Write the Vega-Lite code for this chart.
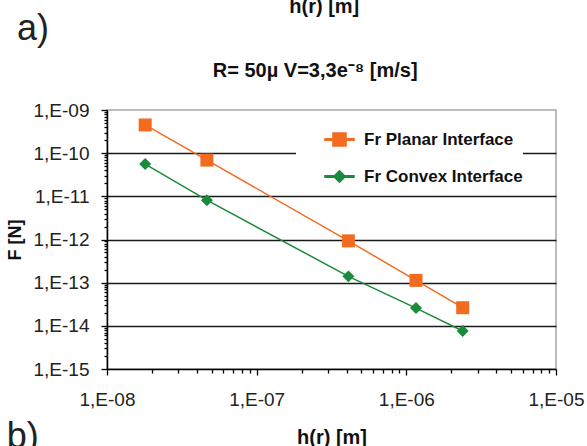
{
  "$schema": "https://vega.github.io/schema/vega-lite/v6.json",
  "width": 449,
  "height": 259,
  "autosize": {"type": "none"},
  "padding": {"left": 107, "top": 110, "right": 31, "bottom": 77},
  "background": "white",
  "config": {
    "font": "Liberation Sans",
    "view": {"stroke": "#a6a6a6", "strokeWidth": 1.5}
  },
  "data": {
    "values": [
      {"series": "Fr Planar Interface", "h": 1.8e-8, "F": 4.5e-10},
      {"series": "Fr Planar Interface", "h": 4.65e-8, "F": 6.9e-11},
      {"series": "Fr Planar Interface", "h": 4.1e-7, "F": 9.3e-13},
      {"series": "Fr Planar Interface", "h": 1.16e-6, "F": 1.13e-13},
      {"series": "Fr Planar Interface", "h": 2.38e-6, "F": 2.63e-14},
      {"series": "Fr Convex Interface", "h": 1.8e-8, "F": 5.6e-11},
      {"series": "Fr Convex Interface", "h": 4.65e-8, "F": 8.15e-12},
      {"series": "Fr Convex Interface", "h": 4.1e-7, "F": 1.4e-13},
      {"series": "Fr Convex Interface", "h": 1.16e-6, "F": 2.58e-14},
      {"series": "Fr Convex Interface", "h": 2.38e-6, "F": 7.6e-15}
    ]
  },
  "layer": [
    {
      "mark": {"type": "point", "filled": true, "opacity": 0, "size": 169},
      "encoding": {
        "x": {
          "field": "h",
          "type": "quantitative",
          "scale": {"type": "log", "domain": [1e-8, 1e-5], "nice": false},
          "axis": {
            "title": "h(r) [m]",
            "titleFont": "Liberation Sans",
            "titleFontSize": 20,
            "titleFontWeight": "bold",
            "titleColor": "#111111",
            "titlePadding": 18,
            "values": [1e-8, 2e-8, 3e-8, 4e-8, 5e-8, 6e-8, 7e-8, 8e-8, 9e-8, 1e-7, 2e-7, 3e-7, 4e-7, 5e-7, 6e-7, 7e-7, 8e-7, 9e-7, 1e-6, 2e-6, 3e-6, 4e-6, 5e-6, 6e-6, 7e-6, 8e-6, 9e-6, 1e-5],
            "labelExpr": "abs(log(datum.value)/LN10 - round(log(datum.value)/LN10)) < 0.001 ? '1,E-' + (round(-log(datum.value)/LN10) < 10 ? '0' : '') + round(-log(datum.value)/LN10) : ''",
            "labelFont": "Liberation Sans",
            "labelFontSize": 19,
            "labelColor": "#222222",
            "labelPadding": 15,
            "labelOverlap": false,
            "labelFlush": false,
            "labelBound": false,
            "grid": false,
            "domainColor": "#000000",
            "domainWidth": 1.5,
            "tickColor": "#000000",
            "tickWidth": 1.3,
            "tickSize": {"condition": {"test": "abs(log(datum.value)/LN10 - round(log(datum.value)/LN10)) < 0.001", "value": 6}, "value": 4}
          }
        },
        "y": {
          "field": "F",
          "type": "quantitative",
          "scale": {"type": "log", "domain": [1e-15, 1e-9], "nice": false},
          "axis": {
            "title": "F [N]",
            "titleFont": "Liberation Sans",
            "titleFontSize": 18,
            "titleFontWeight": "bold",
            "titleColor": "#111111",
            "titlePadding": 9,
            "values": [1e-15, 2e-15, 3e-15, 4e-15, 5e-15, 6e-15, 7e-15, 8e-15, 9e-15, 1e-14, 2e-14, 3e-14, 4e-14, 5e-14, 6e-14, 7e-14, 8e-14, 9e-14, 1e-13, 2e-13, 3e-13, 4e-13, 5e-13, 6e-13, 7e-13, 8e-13, 9e-13, 1e-12, 2e-12, 3e-12, 4e-12, 5e-12, 6e-12, 7e-12, 8e-12, 9e-12, 1e-11, 2e-11, 3e-11, 4e-11, 5e-11, 6e-11, 7e-11, 8e-11, 9e-11, 1e-10, 2e-10, 3e-10, 4e-10, 5e-10, 6e-10, 7e-10, 8e-10, 9e-10, 1e-9],
            "labelExpr": "abs(log(datum.value)/LN10 - round(log(datum.value)/LN10)) < 0.001 ? '1,E-' + (round(-log(datum.value)/LN10) < 10 ? '0' : '') + round(-log(datum.value)/LN10) : ''",
            "labelFont": "Liberation Sans",
            "labelFontSize": 19,
            "labelColor": "#222222",
            "labelPadding": 12,
            "labelOverlap": false,
            "labelFlush": false,
            "labelBound": false,
            "grid": true,
            "gridColor": "#1a1a1a",
            "gridWidth": 1.5,
            "gridOpacity": {"condition": {"test": "abs(log(datum.value)/LN10 - round(log(datum.value)/LN10)) < 0.001 && datum.value < 5e-10 && datum.value > 5e-15", "value": 1}, "value": 0},
            "domainColor": "#000000",
            "domainWidth": 1.5,
            "tickColor": "#000000",
            "tickWidth": 1.3,
            "tickSize": {"condition": {"test": "abs(log(datum.value)/LN10 - round(log(datum.value)/LN10)) < 0.001", "value": 6}, "value": 3}
          }
        },
        "color": {
          "field": "series",
          "type": "nominal",
          "scale": {"domain": ["Fr Planar Interface", "Fr Convex Interface"], "range": ["#F26B21", "#1A8A3B"]},
          "legend": {
            "title": null,
            "orient": "none",
            "legendX": 189,
            "legendY": 14,
            "padding": 0,
            "fillColor": "white",
            "rowPadding": 11,
            "symbolSize": 841,
            "symbolOpacity": 1,
            "symbolStrokeWidth": 1.5,
            "symbolOffset": 28,
            "labelOffset": 9,
            "labelFont": "Liberation Sans",
            "labelFontSize": 17,
            "labelFontWeight": "bold",
            "labelColor": "#111111",
            "labelLimit": 400,
            "labelExpr": "datum.label + '\u00a0\u00a0\u00a0\u00a0\u00a0\u00a0'"
          }
        },
        "shape": {
          "field": "series",
          "type": "nominal",
          "scale": {"domain": ["Fr Planar Interface", "Fr Convex Interface"], "range": ["M-1,-0.05H1V0.05H-1ZM-0.45,-0.45H0.45V0.45H-0.45Z", "M-1,-0.05H1V0.05H-1ZM0,-0.4L0.4,0L0,0.4L-0.4,0Z"]},
          "legend": {
            "title": null,
            "orient": "none",
            "legendX": 189,
            "legendY": 14,
            "padding": 0,
            "fillColor": "white",
            "rowPadding": 11,
            "symbolSize": 841,
            "symbolOpacity": 1,
            "symbolStrokeWidth": 1.5,
            "symbolOffset": 28,
            "labelOffset": 9,
            "labelFont": "Liberation Sans",
            "labelFontSize": 17,
            "labelFontWeight": "bold",
            "labelColor": "#111111",
            "labelLimit": 400,
            "labelExpr": "datum.label + '\u00a0\u00a0\u00a0\u00a0\u00a0\u00a0'"
          }
        }
      }
    },
    {
      "mark": {"type": "line", "strokeWidth": 1.5},
      "encoding": {
        "x": {"field": "h", "type": "quantitative"},
        "y": {"field": "F", "type": "quantitative"},
        "color": {"field": "series", "type": "nominal"}
      }
    },
    {
      "transform": [{"filter": "datum.series === 'Fr Planar Interface'"}],
      "mark": {"type": "point", "filled": true, "opacity": 1, "size": 169, "shape": "square"},
      "encoding": {
        "x": {"field": "h", "type": "quantitative"},
        "y": {"field": "F", "type": "quantitative"},
        "color": {"field": "series", "type": "nominal"}
      }
    },
    {
      "transform": [{"filter": "datum.series === 'Fr Convex Interface'"}],
      "mark": {"type": "point", "filled": true, "opacity": 1, "size": 169, "shape": "M0,-0.92L0.92,0L0,0.92L-0.92,0Z"},
      "encoding": {
        "x": {"field": "h", "type": "quantitative"},
        "y": {"field": "F", "type": "quantitative"},
        "color": {"field": "series", "type": "nominal"}
      }
    },
    {
      "data": {"values": [{"t": "R= 50µ V=3,3e⁻⁸ [m/s]"}]},
      "mark": {"type": "text", "font": "Liberation Sans", "fontSize": 20, "fontWeight": "bold", "align": "center", "baseline": "alphabetic", "color": "#111111"},
      "encoding": {
        "text": {"field": "t"},
        "x": {"datum": 2.46e-7, "type": "quantitative"},
        "y": {"datum": 5.97e-9, "type": "quantitative"}
      }
    },
    {
      "data": {"values": [{"t": "a)"}]},
      "mark": {"type": "text", "font": "Liberation Sans", "fontSize": 36, "align": "center", "baseline": "alphabetic", "color": "#222222"},
      "encoding": {
        "text": {"field": "t"},
        "x": {"datum": 3.2e-9, "type": "quantitative"},
        "y": {"datum": 4.19e-8, "type": "quantitative"}
      }
    },
    {
      "data": {"values": [{"t": "b)"}]},
      "mark": {"type": "text", "font": "Liberation Sans", "fontSize": 36, "align": "center", "baseline": "alphabetic", "color": "#222222"},
      "encoding": {
        "text": {"field": "t"},
        "x": {"datum": 2.74e-9, "type": "quantitative"},
        "y": {"datum": 1.48e-17, "type": "quantitative"}
      }
    },
    {
      "data": {"values": [{"t": "h(r) [m]"}]},
      "mark": {"type": "text", "font": "Liberation Sans", "fontSize": 20, "fontWeight": "bold", "align": "center", "baseline": "alphabetic", "color": "#111111"},
      "encoding": {
        "text": {"field": "t"},
        "x": {"datum": 2.83e-7, "type": "quantitative"},
        "y": {"datum": 1.77e-7, "type": "quantitative"}
      }
    }
  ]
}
